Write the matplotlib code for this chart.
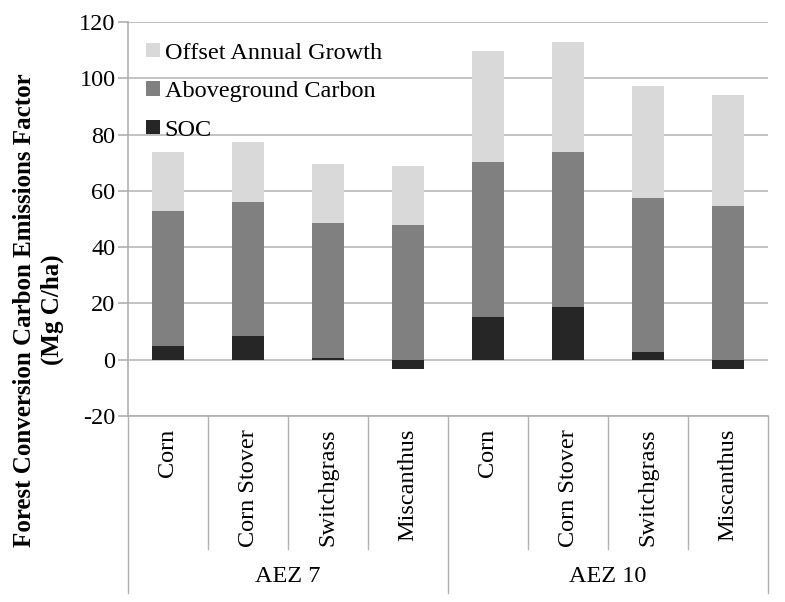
import matplotlib
matplotlib.use("Agg")
import matplotlib.pyplot as plt
from matplotlib.lines import Line2D
import numpy as np

crops = ["Corn", "Corn Stover", "Switchgrass", "Miscanthus",
         "Corn", "Corn Stover", "Switchgrass", "Miscanthus"]
groups = ["AEZ 7", "AEZ 10"]
soc = [4.8, 8.4, 0.6, -3.4, 15.3, 18.7, 2.7, -3.4]
aboveground = [48.2, 47.7, 47.9, 47.8, 54.8, 55.0, 54.8, 54.6]
offset = [20.9, 21.1, 20.9, 20.9, 39.5, 39.2, 39.8, 39.5]
yticks = [-20, 0, 20, 40, 60, 80, 100, 120]

plt.rcParams['font.family'] = ['Liberation Serif', 'DejaVu Serif']

FS = 17.5
W, H = 785, 602
fig = plt.figure(figsize=(W / 100, H / 100), dpi=100)
ax = fig.add_axes([128 / W, 1 - 416 / H, 640 / W, 394 / H])

x = np.arange(len(crops))
soc_a = np.array(soc)
agc_a = np.array(aboveground)
off_a = np.array(offset)
pos_base = np.where(soc_a > 0, soc_a, 0)
bw = 0.4
b1 = ax.bar(x, soc_a, bw, color="#262626", label="SOC", zorder=3)
b2 = ax.bar(x, agc_a, bw, bottom=pos_base, color="#808080", label="Aboveground Carbon", zorder=3)
b3 = ax.bar(x, off_a, bw, bottom=pos_base + agc_a, color="#d9d9d9", label="Offset Annual Growth", zorder=3)

ax.set_xlim(-0.5, len(crops) - 0.5)
ax.set_ylim(-20, 120)
ax.set_yticks(yticks)
ax.set_yticklabels([str(v) for v in yticks], fontsize=FS)
ax.yaxis.grid(True, color="#b8b8b8", linewidth=1.2, zorder=0)
ax.set_axisbelow(True)
ax.set_xticks([])
for s in ["top", "right"]:
    ax.spines[s].set_visible(False)
ax.spines["left"].set_color("#b0b0b0")
ax.spines["bottom"].set_color("#b0b0b0")
ax.spines["left"].set_linewidth(1.2)
ax.spines["bottom"].set_linewidth(1.2)
ax.tick_params(axis="y", length=7, color="#b0b0b0", width=1.2, pad=2)

# category axis
trans = ax.get_xaxis_transform()
inner_bot = -(549 - 416) / 394
outer_bot = -(593 - 416) / 394
label_top = -(429 - 416) / 394
group_y = -(577 - 416) / 394
for i in range(len(crops) + 1):
    xv = i - 0.5
    yb = outer_bot if i % 4 == 0 else inner_bot
    ax.add_line(Line2D([xv, xv], [0, yb], transform=trans, color="#b0b0b0",
                       linewidth=1.0, clip_on=False))
for i, c in enumerate(crops):
    ax.text(i, label_top, c, transform=trans, rotation=90, ha="center", va="top",
            fontsize=FS)
for g, name in enumerate(groups):
    ax.text(g * 4 + 1.5, group_y, name, transform=trans, ha="center", va="center",
            fontsize=FS)

handles = [b3, b2, b1]
leg = ax.legend(handles, [h.get_label() for h in handles], loc="upper left",
                bbox_to_anchor=(0.021, 0.96), frameon=False, fontsize=FS,
                handlelength=0.55, handleheight=0.55, handletextpad=0.2,
                labelspacing=0.72, borderaxespad=0.0, borderpad=0.2)

fig.text(0.049, 1 - 310 / H, "Forest Conversion Carbon Emissions Factor\n(Mg C/ha)",
         rotation=90, ha="center", va="center", fontsize=18, fontweight="bold",
         multialignment="center", linespacing=1.3)

fig.savefig("out.png", dpi=100)
